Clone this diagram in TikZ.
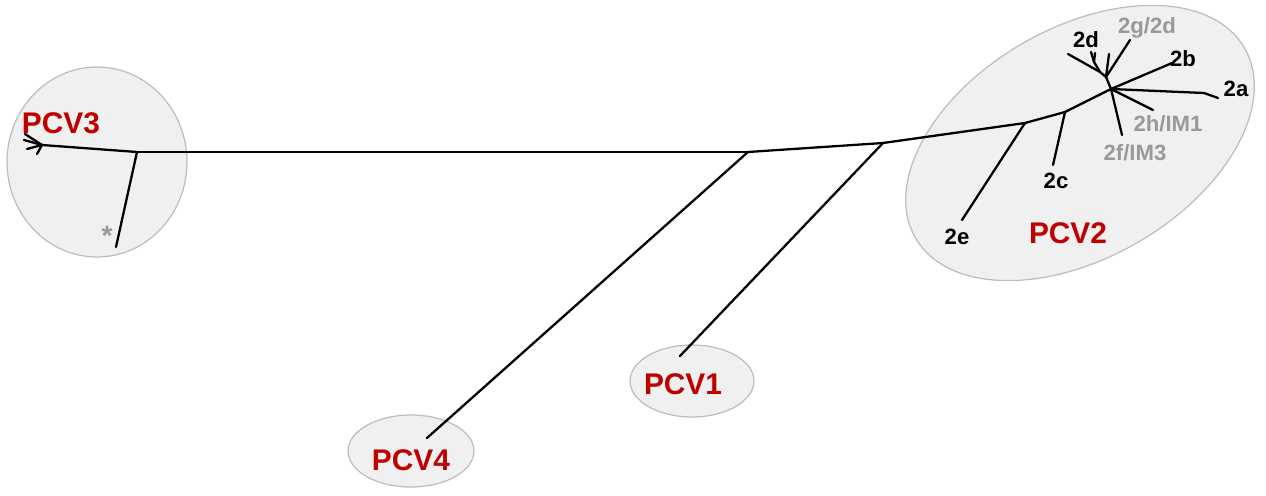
\documentclass[tikz,border=0pt]{standalone}
\usepackage{fontspec}
\setmainfont{Liberation Sans}
\usetikzlibrary{positioning,shapes.geometric}
\definecolor{pcvred}{HTML}{C00000}
\definecolor{leafgrey}{HTML}{999999}
\definecolor{clusterfill}{HTML}{F0F0F0}
\definecolor{clusterline}{HTML}{BDBDBD}

\begin{document}
\begin{tikzpicture}[x=0.02cm, y=-0.02cm]
    \tikzset{
        cluster/.style = {ellipse, draw=clusterline, fill=clusterfill, line width=0.7pt, inner sep=0pt},
        clade/.style = {font=\bfseries\fontsize{17}{17}\selectfont, text=pcvred, inner sep=0pt, text depth=0pt},
        leaf/.style = {font=\bfseries\fontsize{12.6}{12.6}\selectfont, inner sep=0pt, text depth=0pt},
        greyleaf/.style = {leaf, text=leafgrey},
        branch/.style = {line width=1.3pt, line cap=round, line join=round}
    }
    \useasboundingbox (0,0) rectangle (1266,496);

    % shaded groups
    \node (pcv3) [cluster, minimum width=3.6cm, minimum height=3.8cm] at (97,162) {};
    \node (pcv2) [cluster, minimum width=7.6cm, minimum height=4.6cm, rotate=30] at (1080,143) {};
    \node (pcv1) [cluster, minimum width=2.48cm, minimum height=1.44cm] at (692,381) {};
    \node (pcv4) [cluster, minimum width=2.52cm, minimum height=1.44cm] at (411,451) {};

    % tree points
    \coordinate (h3) at (42,145);
    \coordinate (j3) at (137,152);
    \coordinate (s3) at (116,247);
    \coordinate (A) at (748,152);
    \coordinate (B) at (883,143);
    \coordinate (C) at (1025,123);
    \coordinate (Cc) at (1065,112);
    \coordinate (D) at (1111,89);
    \coordinate (E) at (1106,77);
    \coordinate (E1) at (1100,72);
    \coordinate (h2d) at (1094,62);

    \coordinate (leaf4) at (427,438);
    \coordinate (leaf1) at (680,356);
    \coordinate (leaf2e) at (962,220);
    \coordinate (leaf2c) at (1053,165);
    \coordinate (leaf2f) at (1122,135);
    \coordinate (leaf2h) at (1153,110);
    \coordinate (mid2a) at (1204,93);
    \coordinate (leaf2a) at (1218,98);
    \coordinate (mid2b) at (1165,66);
    \coordinate (leaf2b) at (1172,63);
    \coordinate (leaf2dl) at (1068,54);
    \coordinate (leaf2dv) at (1109,54);
    \coordinate (leaf2g) at (1130,40);

    % branches
    \foreach \x/\y [count=\i] in {25/134,24/140,27/149,37/154} {
        \coordinate (t3\i) at (\x,\y);
        \draw [branch] (t3\i) -- (h3);
    }
    \draw [branch] (h3) -- (j3);
    \draw [branch] (j3) -- (s3);
    \draw [branch] (j3) -- (A);
    \draw [branch] (A) -- (leaf4);
    \draw [branch] (A) -- (B);
    \draw [branch] (B) -- (leaf1);
    \draw [branch] (B) -- (C);
    \draw [branch] (C) -- (leaf2e);
    \draw [branch] (C) -- (Cc);
    \draw [branch] (Cc) -- (leaf2c);
    \draw [branch] (Cc) -- (D);
    \draw [branch] (D) -- (leaf2f);
    \draw [branch] (D) -- (leaf2h);
    \draw [branch] (D) -- (mid2a) -- (leaf2a);
    \draw [branch] (D) -- (mid2b) -- (leaf2b);
    \draw [branch] (D) -- (E);
    \draw [branch] (E) -- (E1);
    \draw [branch] (E1) -- (leaf2dl);
    \draw [branch] (E1) -- (h2d);
    \foreach \x/\y [count=\i] in {1091/52,1095/53} {
        \coordinate (t2d\i) at (\x,\y);
        \draw [branch] (t2d\i) -- (h2d);
    }
    \draw [branch] (E) -- (leaf2dv);
    \draw [branch] (E) -- (leaf2g);

    % labels
    \node (pcv3Label) [clade] at (61,123) {PCV3};
    \node (pcv2Label) [clade] at (1068,233) {PCV2};
    \node (pcv1Label) [clade] at (683,384) {PCV1};
    \node (pcv4Label) [clade] at (411,460) {PCV4};
    \node (star) [text=leafgrey, font=\bfseries\fontsize{16}{16}\selectfont, inner sep=0pt, anchor=base] at (107,246) {*};

    \node (l2a) [leaf] at (1236,89) {2a};
    \node (l2b) [leaf] at (1183,58) {2b};
    \node (l2c) [leaf] at (1056,181) {2c};
    \node (l2d) [leaf] at (1086,39) {2d};
    \node (l2e) [leaf] at (957,237) {2e};
    \node (l2g) [greyleaf] at (1147,25) {2g/2d};
    \node (l2h) [greyleaf] at (1168,123) {2h/IM1};
    \node (l2f) [greyleaf] at (1135,152) {2f/IM3};
\end{tikzpicture}
\end{document}
